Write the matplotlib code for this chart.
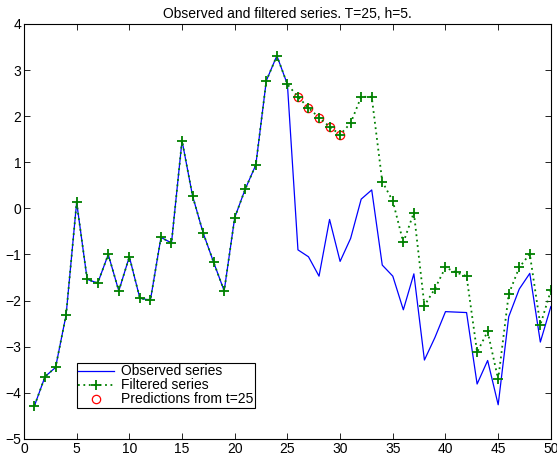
import matplotlib as mpl
import matplotlib.pyplot as plt

mpl.rcParams.update({
    "font.family": ["Liberation Sans", "DejaVu Sans"],
    "font.size": 10,
    "axes.linewidth": 0.8,
})

t = list(range(1, 51))

observed = [
    -4.28, -3.65, -3.45, -2.31, 0.13, -1.54, -1.62, -1.00, -1.79, -1.05,
    -1.95, -1.99, -0.63, -0.75, 1.47, 0.27, -0.53, -1.17, -1.79, -0.20,
    0.42, 0.94, 2.77, 3.31, 2.69, -0.90, -1.05, -1.47, -0.24, -1.15,
    -0.65, 0.20, 0.40, -1.23, -1.47, -2.20, -1.42, -3.29, -2.80, -2.24,
    -2.25, -2.26, -3.81, -3.30, -4.26, -2.35, -1.75, -1.41, -2.90, -2.13,
]

filtered = [
    -4.28, -3.65, -3.45, -2.31, 0.13, -1.54, -1.62, -1.00, -1.79, -1.05,
    -1.95, -1.99, -0.63, -0.75, 1.47, 0.27, -0.53, -1.17, -1.79, -0.20,
    0.42, 0.94, 2.77, 3.31, 2.69, 2.42, 2.18, 1.97, 1.77, 1.60,
    1.85, 2.42, 2.42, 0.58, 0.16, -0.74, -0.09, -2.11, -1.74, -1.28,
    -1.39, -1.47, -3.12, -2.67, -3.71, -1.86, -1.28, -0.99, -2.53, -1.78,
]

pred_t = [26, 27, 28, 29, 30]
predictions = [2.42, 2.18, 1.97, 1.77, 1.60]

fig = plt.figure(figsize=(5.57, 4.61), dpi=100)
ax = fig.add_axes([0.043, 0.048, 0.946, 0.9])

ax.plot(t, observed, color="#0000ff", linewidth=0.9, label="Observed series")
ax.plot(t, filtered, color="#008000", linestyle=(0, (1, 2)), linewidth=1.3,
        marker="+", markersize=7.5, markeredgewidth=1.3, label="Filtered series")
ax.plot(pred_t, predictions, linestyle="none", marker="o", markersize=6,
        markerfacecolor="none", markeredgecolor="#ff0000", markeredgewidth=0.9,
        label="Predictions from t=25", zorder=1)

ax.set_xlim(0, 50)
ax.set_ylim(-5, 4)
ax.set_xticks(range(0, 51, 5))
ax.set_yticks(range(-5, 5))
ax.tick_params(direction="in", top=True, right=True, length=4, width=0.6, labelsize=10, pad=2)
ax.set_title("Observed and filtered series. T=25, h=5.", fontsize=10, pad=4)

leg = ax.legend(loc="lower left", bbox_to_anchor=(0.1, 0.075), fancybox=False,
                edgecolor="black", framealpha=1, fontsize=10, borderpad=0.1,
                labelspacing=0.0, handlelength=2.6, handletextpad=0.5, borderaxespad=0)
leg.get_frame().set_linewidth(0.8)

fig.savefig("out.png", dpi=100)
